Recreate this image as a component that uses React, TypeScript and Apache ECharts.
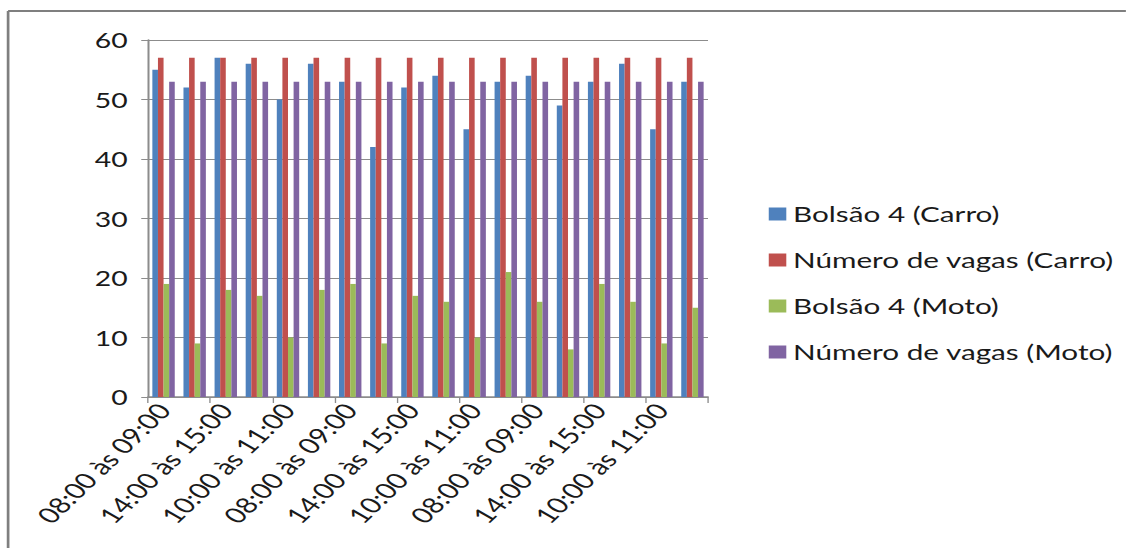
import React, { useEffect, useRef } from "react";
import * as echarts from "echarts";

// Time slots, three per day, repeated over six observation days
const categories = [
  "08:00 às 09:00", "10:00 às 11:00", "14:00 às 15:00",
  "08:00 às 09:00", "10:00 às 11:00", "14:00 às 15:00",
  "08:00 às 09:00", "10:00 às 11:00", "14:00 às 15:00",
  "08:00 às 09:00", "10:00 às 11:00", "14:00 às 15:00",
  "08:00 às 09:00", "10:00 às 11:00", "14:00 às 15:00",
  "08:00 às 09:00", "10:00 às 11:00", "14:00 às 15:00",
];

const bolsaoCarro = [55, 52, 57, 56, 50, 56, 53, 42, 52, 54, 45, 53, 54, 49, 53, 56, 45, 53];
const vagasCarro = [57, 57, 57, 57, 57, 57, 57, 57, 57, 57, 57, 57, 57, 57, 57, 57, 57, 57];
const bolsaoMoto = [19, 9, 18, 17, 10, 18, 19, 9, 17, 16, 10, 21, 16, 8, 19, 16, 9, 15];
const vagasMoto = [53, 53, 53, 53, 53, 53, 53, 53, 53, 53, 53, 53, 53, 53, 53, 53, 53, 53];

const seriesNames = [
  "Bolsão 4 (Carro)",
  "Número de vagas (Carro)",
  "Bolsão 4 (Moto)",
  "Número de vagas (Moto)",
];
const colors = ["#4F81BD", "#C0504D", "#9BBB59", "#8064A2"];

const FONT = "Lato, 'Open Sans', sans-serif";

// The chart is laid out on a narrower canvas and widened horizontally.
const STRETCH = 1.35;
const PAGE_W = 1126;
const PAGE_H = 548;
const CHART_W = Math.round(PAGE_W / STRETCH);

export default function App() {
  const ref = useRef<HTMLDivElement>(null);

  useEffect(() => {
    if (!ref.current) return;
    const chart = echarts.init(ref.current, null, { renderer: "svg" });
    const values = [bolsaoCarro, vagasCarro, bolsaoMoto, vagasMoto];
    const gridLeft = 148 / STRETCH;
    const gridRight = CHART_W - 708 / STRETCH;
    chart.setOption({
      animation: false,
      backgroundColor: "#ffffff",
      color: colors,
      textStyle: { fontFamily: FONT },
      grid: { left: gridLeft, right: gridRight, top: 40, bottom: 151, containLabel: false },
      legend: {
        orient: "vertical",
        left: 762 / STRETCH,
        top: 198,
        itemWidth: 13,
        itemHeight: 13,
        itemGap: 24,
        icon: "rect",
        textStyle: { fontSize: 22, color: "#1a1a1a", fontFamily: FONT },
        data: seriesNames,
      },
      xAxis: {
        type: "category",
        data: categories,
        boundaryGap: true,
        axisLine: { lineStyle: { color: "#8c8c8c", width: 1.5 } },
        axisTick: { show: true, length: 6, lineStyle: { color: "#8c8c8c" } },
        axisLabel: {
          interval: 1,
          rotate: 52,
          fontSize: 22,
          color: "#1a1a1a",
          margin: 9,
          fontFamily: FONT,
        },
      },
      yAxis: {
        type: "value",
        min: 0,
        max: 60,
        interval: 10,
        axisLine: { show: true, lineStyle: { color: "#8c8c8c", width: 1.5 } },
        axisTick: { show: true, length: 5, lineStyle: { color: "#8c8c8c" } },
        splitLine: { lineStyle: { color: "#8c8c8c", width: 1.2 } },
        axisLabel: { fontSize: 21, color: "#1a1a1a", margin: 15, fontFamily: FONT },
      },
      graphic: [
        {
          type: "line",
          shape: { x1: 6, y1: 11, x2: CHART_W, y2: 11 },
          style: { stroke: "#7f7f7f", lineWidth: 2 },
        },
        {
          type: "line",
          shape: { x1: 6, y1: 11, x2: 6, y2: PAGE_H },
          style: { stroke: "#7f7f7f", lineWidth: 2 },
        },
      ],
      series: seriesNames.map((name, i) => ({
        name,
        type: "bar",
        data: values[i],
        barGap: "0%",
        barCategoryGap: "28%",
        itemStyle: { color: colors[i] },
      })),
    });
    return () => chart.dispose();
  }, []);

  return (
    <div
      style={{
        position: "fixed",
        left: 0,
        top: 0,
        width: PAGE_W,
        height: PAGE_H,
        overflow: "hidden",
        background: "#ffffff",
      }}
    >
      <div
        ref={ref}
        style={{
          width: CHART_W,
          height: PAGE_H,
          transform: `scaleX(${STRETCH})`,
          transformOrigin: "0 0",
        }}
      />
    </div>
  );
}
